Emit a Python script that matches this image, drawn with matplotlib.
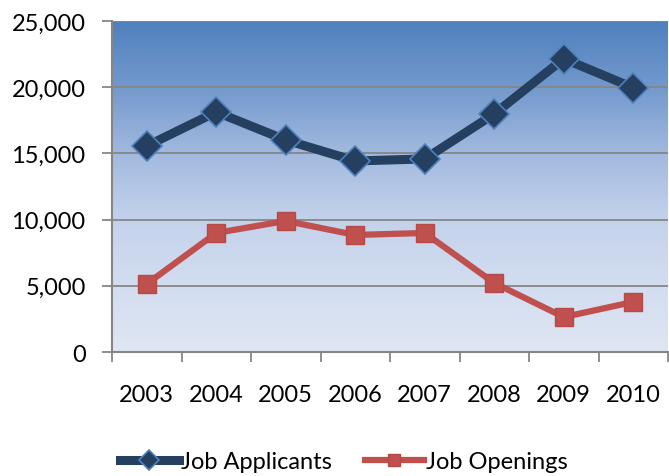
import numpy as np
import matplotlib
matplotlib.use("Agg")
import matplotlib.pyplot as plt
from matplotlib.colors import LinearSegmentedColormap

years = ["2003", "2004", "2005", "2006", "2007", "2008", "2009", "2010"]
applicants = [15560, 18130, 16010, 14430, 14580, 17980, 22150, 19960]
openings = [5140, 8990, 9900, 8840, 8990, 5210, 2640, 3780]
y_ticks = [0, 5000, 10000, 15000, 20000, 25000]

plt.rcParams['font.family'] = ['Lato', 'DejaVu Sans']

fig = plt.figure(figsize=(6.69, 4.77), dpi=100)
ax = fig.add_axes([112/669, 124/477, 556/669, 331/477])

x = np.arange(len(years))
n = len(years)

# gradient background (dark blue at top, pale at bottom)
cmap = LinearSegmentedColormap.from_list(
    "bg", [(0.0, "#4F81BD"), (0.2, "#7399CD"), (0.4, "#A2BADF"),
           (0.6, "#C3D2EB"), (0.8, "#D3DDF0"), (1.0, "#DFE6F3")])
grad = np.linspace(1, 0, 256).reshape(-1, 1)
ax.imshow(grad, cmap=cmap, vmin=0, vmax=1, aspect="auto",
          extent=(-0.5, n - 0.5, 0, 25000), origin="lower", zorder=0,
          interpolation="bilinear")
ax.set_xlim(-0.5, n - 0.5)
ax.set_ylim(0, 25000)

for yt in y_ticks[1:]:
    ax.axhline(yt, color="#868686", lw=1.3, zorder=1)

ax.plot(x, applicants, color="#243F60", lw=6.5, marker="D", markersize=15,
        markerfacecolor="#243F60", markeredgecolor="#4F81BD", markeredgewidth=1.2,
        label="Job Applicants", zorder=3)
ax.plot(x, openings, color="#C0504D", lw=4.5, marker="s", markersize=13.5,
        markerfacecolor="#C0504D", markeredgecolor="#B54946", markeredgewidth=1,
        label="Job Openings", zorder=3)

for s in ["top", "right"]:
    ax.spines[s].set_visible(False)
for s in ["left", "bottom"]:
    ax.spines[s].set_color("#868686")
    ax.spines[s].set_linewidth(1.5)
    ax.spines[s].set_zorder(4)

ax.set_yticks(y_ticks)
ax.set_yticklabels([f"{v:,}" for v in y_ticks])
ax.tick_params(axis="y", length=7, width=1.3, color="#868686", pad=12,
               labelsize=17, labelcolor="black")
ax.set_xticks(x)
ax.set_xticklabels(years)
ax.set_xticks(np.arange(-0.5, n + 0.5, 1), minor=True)
ax.tick_params(axis="x", which="major", length=0, pad=23, labelsize=17)
ax.tick_params(axis="x", which="minor", length=7, width=1.3, color="#868686")

leg = ax.legend(loc="center", bbox_to_anchor=(0.417, -0.332), ncol=2, frameon=False,
                fontsize=17, handlelength=2.5, handletextpad=0.1, columnspacing=1.4,
                markerscale=0.65, borderpad=0, borderaxespad=0)

fig.savefig("out.png", dpi=100)
